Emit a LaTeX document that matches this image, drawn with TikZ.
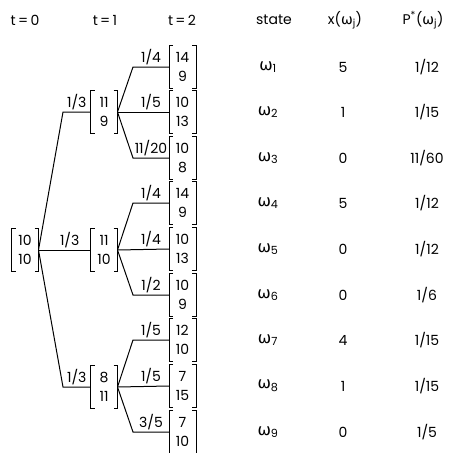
\documentclass[tikz,border=0pt]{standalone}
\usepackage{fontspec}
\setmainfont{Poppins}
\newfontfamily\gk{DejaVu Sans}
\newcommand{\om}[1]{{\gk ω}\textsubscript{#1}}
\begin{document}
\begin{tikzpicture}[x=1pt,y=-1pt,line width=1pt,
  vec/.style={minimum width=26pt,minimum height=42pt,inner sep=0pt,align=center,font=\fontsize{14}{19}\selectfont},
  lab/.style={above,inner sep=1.5pt,font=\fontsize{14}{16}\selectfont},
  txt/.style={inner sep=0pt,font=\fontsize{14}{16}\selectfont},
  wtxt/.style={inner sep=0pt,font=\fontsize{16}{18}\selectfont}]
\useasboundingbox (0,0) rectangle (451,453);
\newcommand{\brk}[1]{%
  \draw ([xshift=4pt]#1.north west) -- (#1.north west) -- (#1.south west) -- ++(4pt,0);
  \draw ([xshift=-4pt]#1.north east) -- (#1.north east) -- (#1.south east) -- ++(-4pt,0);}
% headers
\node[txt] (h0) at (25,20) {t\,=\,0};
\node[txt] (h1) at (105,20) {t\,=\,1};
\node[txt] (h2) at (182,20) {t\,=\,2};
\node[txt] (hs) at (274,20) {state};
\node[txt] (hx) at (345,20) {x(\om{j})};
\node[txt] (hp) at (423,20) {P\textsuperscript{*}(\om{j})};
% tree nodes
\node[vec] (r) at (25,250) {10\\10}; \brk{r}
\node[vec] (a) at (104,112) {11\\9}; \brk{a}
\node[vec] (b) at (104,250) {11\\10}; \brk{b}
\node[vec] (c) at (104,387) {8\\11}; \brk{c}
\node[vec] (s1) at (182.5,67) {14\\9}; \brk{s1}
\node[vec] (s2) at (182.5,112) {10\\13}; \brk{s2}
\node[vec] (s3) at (182.5,158) {10\\8}; \brk{s3}
\node[vec] (s4) at (182.5,203) {14\\9}; \brk{s4}
\node[vec] (s5) at (182.5,249) {10\\13}; \brk{s5}
\node[vec] (s6) at (182.5,295) {10\\9}; \brk{s6}
\node[vec] (s7) at (182.5,340) {12\\10}; \brk{s7}
\node[vec] (s8) at (182.5,386) {7\\15}; \brk{s8}
\node[vec] (s9) at (182.5,432) {7\\10}; \brk{s9}
% elbows
\coordinate (ea) at (63,112);
\coordinate (ec) at (63,387);
\coordinate (e1) at (133,67);
\coordinate (e3) at (133,158);
\coordinate (e4) at (133,203);
\coordinate (e6) at (133,295);
\coordinate (e7) at (133,340);
\coordinate (e9) at (133,432);
% connectors
\draw (r.east) -- (ea) -- node[lab]{1/3} (a.west);
\draw (r.east) -- node[lab,pos=0.6]{1/3} (b.west);
\draw (r.east) -- (ec) -- node[lab]{1/3} (c.west);
\draw (a.east) -- (e1) -- node[lab]{1/4} (s1.west);
\draw (a.east) -- node[lab,pos=0.65]{1/5} (s2.west);
\draw (a.east) -- (e3) -- node[lab]{11/20} (s3.west);
\draw (b.east) -- (e4) -- node[lab]{1/4} (s4.west);
\draw (b.east) -- node[lab,pos=0.65]{1/4} (s5.west);
\draw (b.east) -- (e6) -- node[lab]{1/2} (s6.west);
\draw (c.east) -- (e7) -- node[lab]{1/5} (s7.west);
\draw (c.east) -- node[lab,pos=0.65]{1/5} (s8.west);
\draw (c.east) -- (e9) -- node[lab]{3/5} (s9.west);
% table
\foreach \i/\y/\xv/\pv in {1/67/5/1\slash 12, 2/112/1/1\slash 15, 3/158/0/11\slash 60, 4/203/5/1\slash 12, 5/249/0/1\slash 12, 6/295/0/1\slash 6, 7/340/4/1\slash 15, 8/386/1/1\slash 15, 9/432/0/1\slash 5}{
  \node[wtxt] (w\i) at (268,\y) {\om{\i}};
  \node[txt] (x\i) at (343,\y) {\xv};
  \node[txt] (p\i) at (427,\y) {\pv};
}
\end{tikzpicture}
\end{document}
